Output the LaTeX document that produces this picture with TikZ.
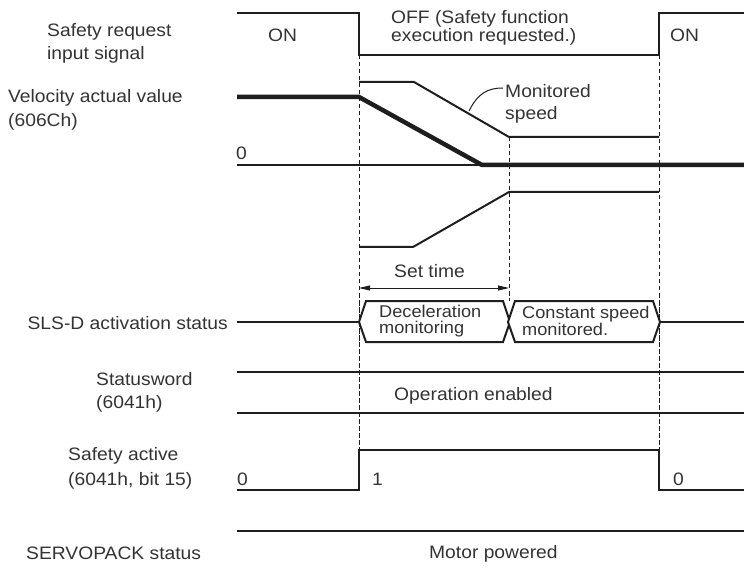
\documentclass[tikz,border=0pt]{standalone}
\usepackage{fontspec}
\setmainfont{Liberation Sans}[FakeStretch=1.07]
\usetikzlibrary{arrows.meta}
\definecolor{txt}{HTML}{333333}
\definecolor{ln}{HTML}{1E1E1E}
\begin{document}
\begin{tikzpicture}[x=1pt,y=-1pt,
  lbl/.style={inner sep=0pt,anchor=base west,text=txt,font=\fontsize{18}{22}\selectfont},
  boxtxt/.style={inner sep=0pt,anchor=west,text=txt,align=left,font=\fontsize{17}{15.5}\selectfont},
  sig/.style={draw=ln,line width=2pt,line join=miter},
  thick sig/.style={draw=ln,line width=4.5pt,line join=miter},
  zero/.style={draw=ln,line width=1.1pt},
  guide/.style={draw=ln,line width=0.9pt,dash pattern=on 4.5pt off 2.5pt},
  hexbox/.style={draw=ln,line width=2pt,line join=miter,fill=white}]
\useasboundingbox (0,0) rectangle (744,569);

% dashed guides
\draw[guide] (359,55) -- (359,450);
\draw[guide] (659,55) -- (659,450);
\draw[guide] (509,137) -- (509,301);

% Safety request input signal
\node[lbl] (sr1) at (47,37) {Safety request};
\node[lbl] (sr2) at (47,60) {input signal};
\draw[sig] (237,13) -- (359,13) -- (359,55) -- (659,55) -- (659,13) -- (744,13);
\node[lbl] (on1) at (268,42) {ON};
\node[lbl] (off1) at (391,24) {OFF (Safety function};
\node[lbl] (off2) at (391,42) {execution requested.)};
\node[lbl] (on2) at (670,42) {ON};

% Velocity
\node[lbl] (va1) at (8,103) {Velocity actual value};
\node[lbl] (va2) at (8,127) {(606Ch)};
\node[lbl] (z1) at (236,160) {0};
\draw[zero] (237,165) -- (744,165);
\draw[thick sig] (237,97) -- (359,97) -- (482,165) -- (744,165);
\draw[sig] (359,82) -- (414,82) -- (509,137) -- (659,137);
\draw[sig] (359,247) -- (413,247) -- (509,192) -- (659,192);
\node[lbl] (ms1) at (505,98) {Monitored};
\node[lbl] (ms2) at (505,120) {speed};
\coordinate (leadA) at (503,88);
\coordinate (leadB) at (469,111);
\draw[draw=ln,line width=1pt] (leadA) .. controls (488,88) and (478,93) .. (leadB);

% Set time
\node[lbl] (st) at (394,277) {Set time};
\coordinate (stA) at (359,288);
\coordinate (stB) at (509,288);
\draw[draw=ln,line width=0.9pt,{Triangle[length=11pt,width=5pt]}-{Triangle[length=11pt,width=5pt]}] (stA) -- (stB);

% SLS-D activation status
\node[lbl,anchor=base east] (sls) at (228,329) {SLS-D activation status};
\draw[sig] (237,322) -- (359,322);
\draw[sig] (660,322) -- (744,322);
\draw[hexbox] (359,322) -- (366,301) -- (503,301) -- (510,322) -- (503,342) -- (366,342) -- cycle;
\draw[hexbox] (508,322) -- (515,301) -- (653,301) -- (660,322) -- (653,342) -- (515,342) -- cycle;
\draw[guide] (359,301) -- (359,342);
\draw[guide] (659,301) -- (659,342);
\node[boxtxt] (dm) at (379,321) {Deceleration\\monitoring};
\node[boxtxt] (cs) at (522,321) {Constant speed\\monitored.};

% Statusword
\node[lbl] (sw1) at (96,385) {Statusword};
\node[lbl] (sw2) at (96,408) {(6041h)};
\draw[sig] (237,372) -- (744,372);
\draw[sig] (237,413) -- (744,413);
\node[lbl] (oe) at (394,400) {Operation enabled};

% Safety active
\node[lbl] (sa1) at (68,460) {Safety active};
\node[lbl] (sa2) at (68,485) {(6041h, bit 15)};
\draw[sig] (237,490) -- (359,490) -- (359,450) -- (659,450) -- (659,490) -- (744,490);
\node[lbl] (s0a) at (237,485) {0};
\node[lbl] (s1) at (372,485) {1};
\node[lbl] (s0b) at (673,485) {0};

% SERVOPACK status
\node[lbl] (sp) at (26,559) {SERVOPACK status};
\draw[sig] (237,531) -- (744,531);
\node[lbl] (mp) at (429,558) {Motor powered};
\end{tikzpicture}
\end{document}
